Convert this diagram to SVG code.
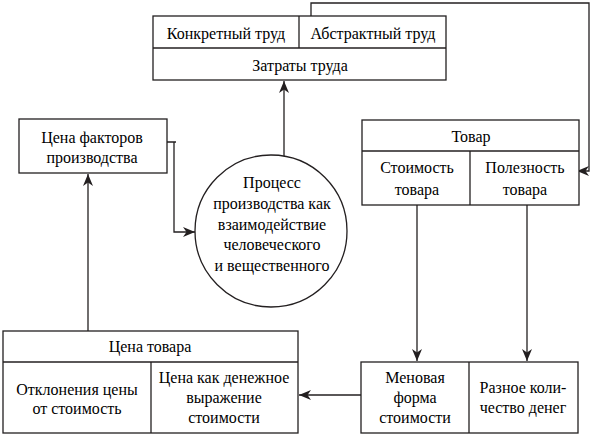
<svg xmlns="http://www.w3.org/2000/svg" width="595" height="437" viewBox="0 0 595 437">
<defs>
<marker id="arr" viewBox="0 0 12 10" refX="12" refY="5" markerWidth="12" markerHeight="10" markerUnits="userSpaceOnUse" orient="auto">
<path d="M0,0 L12,5 L0,10 L3.5,5 z" fill="#231f20"/>
</marker>
</defs>
<rect width="595" height="437" fill="#fff"/>
<g id="connectors" fill="none" stroke="#231f20" stroke-width="1.3">
<path d="M311,16 V3 H589 V171 H577" marker-end="url(#arr)"/>
<path d="M284,157 V81" marker-end="url(#arr)"/>
<path d="M167,142 H176 M174,142 V232 H195" marker-end="url(#arr)"/>
<path d="M88,331 V174" marker-end="url(#arr)"/>
<path d="M417,205 V361" marker-end="url(#arr)"/>
<path d="M527,205 V361" marker-end="url(#arr)"/>
<path d="M361,395 H299" marker-end="url(#arr)"/>
</g>
<g id="trud">
<g fill="#fff" stroke="#231f20" stroke-width="1.3">
<rect x="153" y="16" width="293" height="64"/>
<line x1="153" y1="48" x2="446" y2="48"/>
<line x1="299" y1="16" x2="299" y2="48"/>
</g>
<text font-family="Liberation Serif" font-size="16" text-anchor="middle" x="226" y="39">Конкретный труд</text>
<text font-family="Liberation Serif" font-size="16" text-anchor="middle" x="373" y="39">Абстрактный труд</text>
<text font-family="Liberation Serif" font-size="16" text-anchor="middle" x="300" y="71">Затраты труда</text>
</g>
<g id="cena-faktorov">
<rect x="19" y="119" width="148" height="54" fill="#fff" stroke="#231f20" stroke-width="1.3"/>
<text font-family="Liberation Serif" font-size="16" text-anchor="middle" x="92" y="143">Цена факторов</text>
<text font-family="Liberation Serif" font-size="16" text-anchor="middle" x="92" y="163">производства</text>
</g>
<g id="process">
<circle cx="271" cy="231" r="76" fill="#fff" stroke="#231f20" stroke-width="1.3"/>
<text font-family="Liberation Serif" font-size="16" text-anchor="middle" x="272" y="188">Процесс</text>
<text font-family="Liberation Serif" font-size="16" text-anchor="middle" x="272" y="209">производства как</text>
<text font-family="Liberation Serif" font-size="16" text-anchor="middle" x="272" y="230">взаимодействие</text>
<text font-family="Liberation Serif" font-size="16" text-anchor="middle" x="272" y="250">человеческого</text>
<text font-family="Liberation Serif" font-size="16" text-anchor="middle" x="272" y="271">и вещественного</text>
</g>
<g id="tovar">
<g fill="#fff" stroke="#231f20" stroke-width="1.3">
<rect x="362" y="120" width="217" height="85"/>
<line x1="362" y1="151" x2="579" y2="151"/>
<line x1="470" y1="151" x2="470" y2="205"/>
</g>
<text font-family="Liberation Serif" font-size="16" text-anchor="middle" x="471" y="142">Товар</text>
<text font-family="Liberation Serif" font-size="16" text-anchor="middle" x="417" y="173">Стоимость</text>
<text font-family="Liberation Serif" font-size="16" text-anchor="middle" x="417" y="195">товара</text>
<text font-family="Liberation Serif" font-size="16" text-anchor="middle" x="525" y="173">Полезность</text>
<text font-family="Liberation Serif" font-size="16" text-anchor="middle" x="525" y="195">товара</text>
</g>
<g id="cena-tovara">
<g fill="#fff" stroke="#231f20" stroke-width="1.3">
<rect x="3" y="331" width="295" height="102"/>
<line x1="3" y1="362" x2="298" y2="362"/>
<line x1="151" y1="362" x2="151" y2="433"/>
</g>
<text font-family="Liberation Serif" font-size="16" text-anchor="middle" x="150" y="352">Цена товара</text>
<text font-family="Liberation Serif" font-size="16" text-anchor="middle" x="77" y="395">Отклонения цены</text>
<text font-family="Liberation Serif" font-size="16" text-anchor="middle" x="77" y="414">от стоимость</text>
<text font-family="Liberation Serif" font-size="16" text-anchor="middle" x="224" y="383">Цена как денежное</text>
<text font-family="Liberation Serif" font-size="16" text-anchor="middle" x="224" y="403">выражение</text>
<text font-family="Liberation Serif" font-size="16" text-anchor="middle" x="224" y="423">стоимости</text>
</g>
<g id="menovaya">
<g fill="#fff" stroke="#231f20" stroke-width="1.3">
<rect x="361" y="362" width="217" height="71"/>
<line x1="469" y1="362" x2="469" y2="433"/>
</g>
<text font-family="Liberation Serif" font-size="16" text-anchor="middle" x="415" y="383">Меновая</text>
<text font-family="Liberation Serif" font-size="16" text-anchor="middle" x="415" y="403">форма</text>
<text font-family="Liberation Serif" font-size="16" text-anchor="middle" x="415" y="423">стоимости</text>
<text font-family="Liberation Serif" font-size="16" text-anchor="middle" x="523" y="393">Разное коли-</text>
<text font-family="Liberation Serif" font-size="16" text-anchor="middle" x="523" y="413">чество денег</text>
</g>
</svg>
